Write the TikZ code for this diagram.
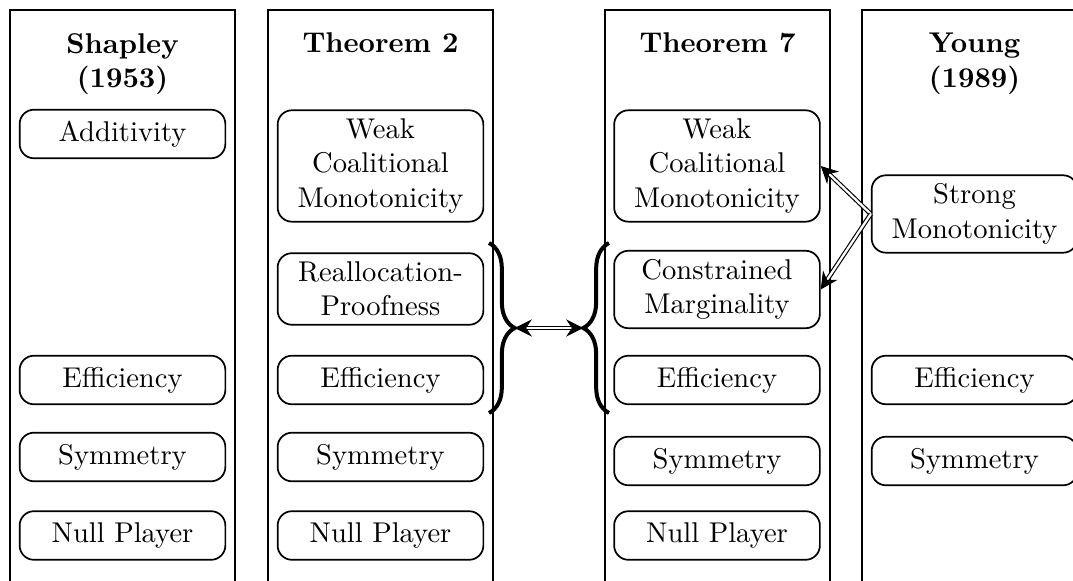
\documentclass[tikz,border=0pt]{standalone}
\usepackage{amsmath}
\usepackage{tikz}
\usetikzlibrary{arrows.meta,decorations.pathreplacing}

\begin{document}
\begin{tikzpicture}[x=0.35pt, y=-0.35pt,
    axiom/.style={draw, semithick, rounded corners=5pt, text width=66pt, align=center, minimum height=17pt, inner sep=3pt},
    column/.style={draw, thin},
    heading/.style={font=\bfseries, align=center, anchor=north, inner sep=3pt},
    curly/.style={decorate, decoration={brace, amplitude=9pt}, line width=1.4pt},
    dblarrow/.style={double, double distance=0.8pt, thin, -{Stealth[length=6pt,width=6pt,inset=2pt]}}]
    \useasboundingbox (0,0) rectangle (1073,581);
    \clip (0,0) rectangle (1073,581);

    % columns
    \draw[column] (10,10) rectangle (235,620);
    \draw[column] (268,10) rectangle (493,620);
    \draw[column] (605,10) rectangle (830,620);
    \draw[column] (862,10) rectangle (1087,620);

    \node[heading] (shapley) at (122.5,24) {Shapley\\(1953)};
    \node[heading] (thmtwo) at (380.5,24) {Theorem 2};
    \node[heading] (thmseven) at (717.5,24) {Theorem 7};
    \node[heading] (young) at (974.5,24) {Young\\(1989)};

    % Shapley
    \node[axiom] (add) at (122.5,134) {Additivity};
    \node[axiom] (eff1) at (122.5,380) {Efficiency};
    \node[axiom] (sym1) at (122.5,457) {Symmetry};
    \node[axiom] (null1) at (122.5,535.5) {Null Player};

    % Theorem 2
    \node[axiom] (weak2) at (380.5,166) {Weak\\Coalitional\\Monotonicity};
    \node[axiom] (realloc) at (380.5,289) {Reallocation-\\Proofness};
    \node[axiom] (eff2) at (380.5,380) {Efficiency};
    \node[axiom] (sym2) at (380.5,457) {Symmetry};
    \node[axiom] (null2) at (380.5,535.5) {Null Player};

    % Theorem 7
    \node[axiom] (weak7) at (717,166) {Weak\\Coalitional\\Monotonicity};
    \node[axiom] (constr) at (717,289.5) {Constrained\\Marginality};
    \node[axiom] (eff7) at (717,380) {Efficiency};
    \node[axiom] (sym7) at (717,461) {Symmetry};
    \node[axiom] (null7) at (717,535.5) {Null Player};

    % Young
    \node[axiom] (strong) at (974.5,214) {Strong\\Monotonicity};
    \node[axiom] (effy) at (974.5,380) {Efficiency};
    \node[axiom] (symy) at (974.5,461) {Symmetry};

    % braces
    \coordinate (lbtop) at (489,243);
    \coordinate (lbbot) at (489,413);
    \coordinate (lbtip) at (514.7,328);
    \coordinate (rbtop) at (609,243);
    \coordinate (rbbot) at (609,413);
    \coordinate (rbtip) at (583.3,328);
    \draw[curly] (lbtop) -- (lbbot);
    \draw[curly] (rbbot) -- (rbtop);

    \draw[dblarrow, {Stealth[length=6pt,width=6pt,inset=2pt]}-{Stealth[length=6pt,width=6pt,inset=2pt]}] (lbtip) -- (rbtip);
    \draw[dblarrow] (strong.west) -- (weak7.east);
    \draw[dblarrow] (strong.west) -- (constr.east);
\end{tikzpicture}
\end{document}
